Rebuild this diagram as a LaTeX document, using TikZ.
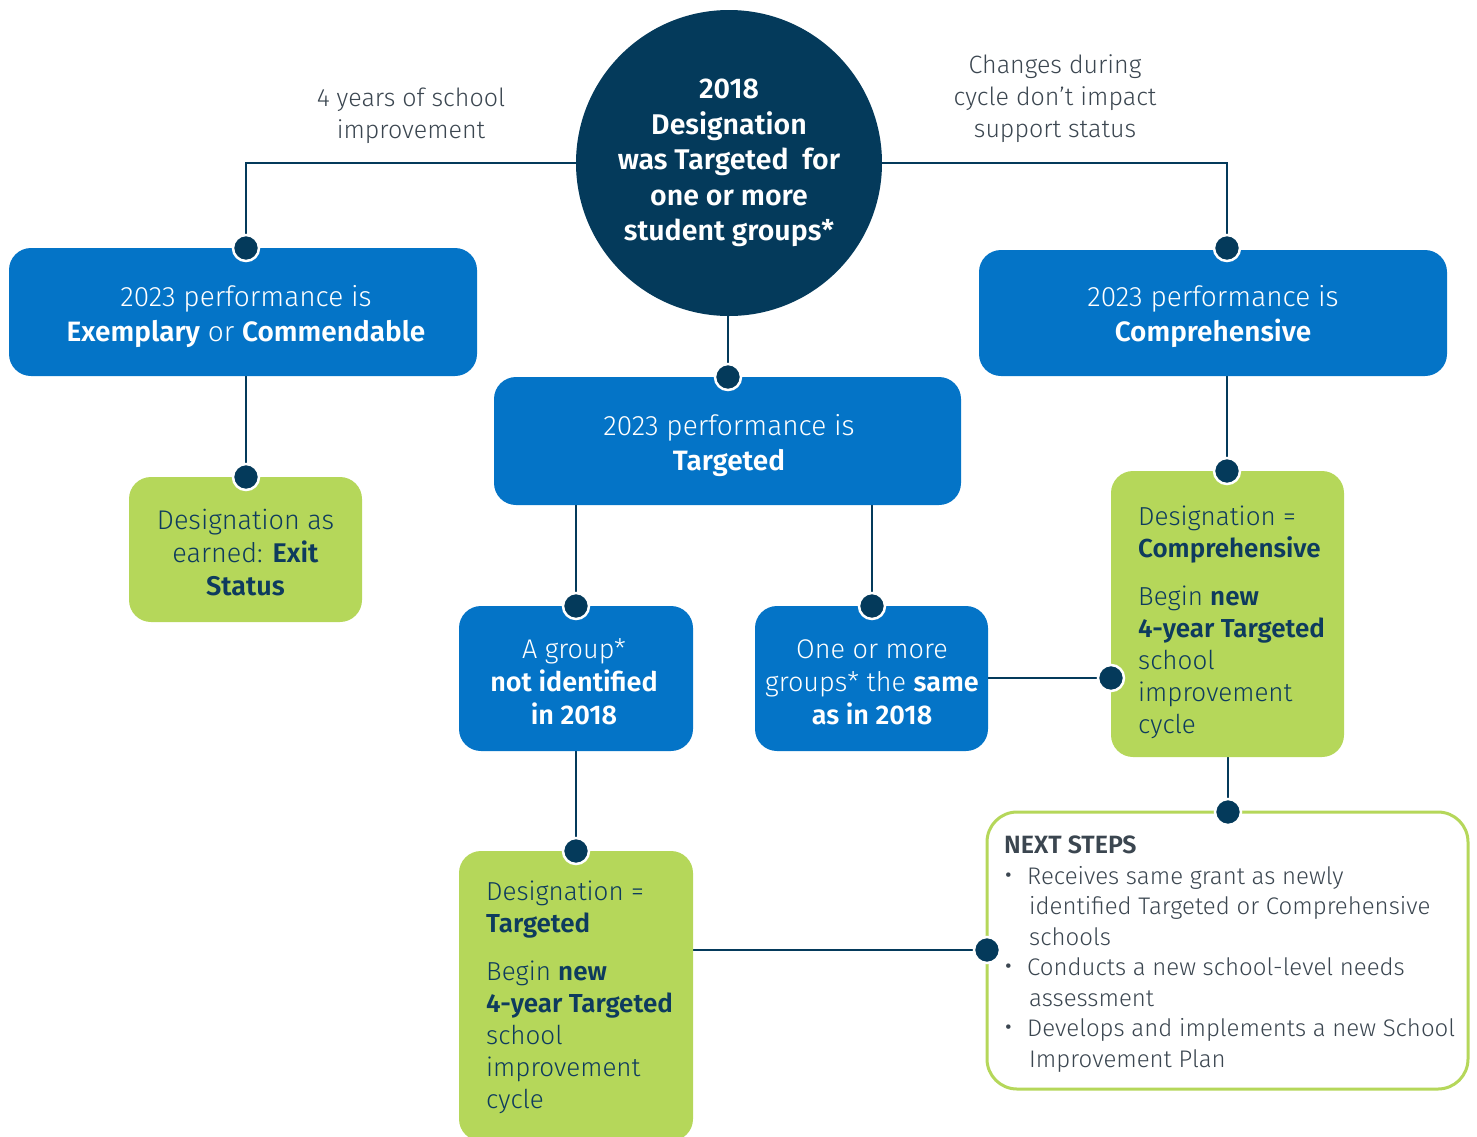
\documentclass[tikz,border=0pt]{standalone}
\usepackage{fontspec}
\setmainfont{Fira Sans Light}[BoldFont=Fira Sans SemiBold]
\usetikzlibrary{positioning}
\definecolor{cblue}{HTML}{0474C7}
\definecolor{cnavy}{HTML}{043A5B}
\definecolor{cgreen}{HTML}{B5D75A}
\definecolor{ctext}{HTML}{0E3B5E}
\definecolor{cgray}{HTML}{3B4650}
\pgfdeclarelayer{bg}
\pgfsetlayers{bg,main}
\newcommand{\bul}{\makebox[23pt][l]{\raisebox{-1pt}{\fontsize{30}{30}\selectfont\textbullet}}}
\tikzset{
  bluebox/.style={rectangle, rounded corners=22, fill=cblue, text=white, inner sep=0, align=center,
    font=\fontsize{28}{35}\selectfont},
  greenbox/.style={rectangle, rounded corners=22, fill=cgreen, text=ctext, inner sep=0, align=center,
    font=\fontsize{27}{33}\selectfont},
  greentext/.style={inner sep=0, anchor=north west, align=left, text=ctext, font=\fontsize{26}{32}\selectfont},
  dotm/.style={circle, fill=cnavy, draw=white, line width=2.5, minimum size=26, inner sep=0},
  conn/.style={draw=cnavy, line width=2.5},
  lbl/.style={align=center, text=cgray, font=\fontsize{25}{32}\selectfont},
}
\begin{document}
\begin{tikzpicture}[x=1pt,y=-1pt]
\useasboundingbox (0,0) rectangle (1477,1136);
% central circle
\node[circle, fill=cnavy, minimum size=306, inner sep=0, text=white, align=center,
  font=\bfseries\fontsize{28.5}{35.5}\selectfont] (circ) at (729,163)
  {2018\\Designation\\was Targeted\ \ for\\one or more\\student groups*};
% labels
\node[lbl] (l1) at (411,116) {4 years of school\\improvement};
\node[lbl] (l2) at (1055,99) {Changes during\\cycle don’t impact\\support status};
% blue boxes
\node[bluebox, minimum width=468, minimum height=128] (A) at (243,312) {};
\node[bluebox, fill=none] (At) at (246,317) {2023 performance is\\\textbf{Exemplary} or \textbf{Commendable}};
\node[bluebox, minimum width=468, minimum height=126] (C) at (1213,313) {};
\node[bluebox, fill=none] (Ct) at (1213,317) {2023 performance is\\\textbf{Comprehensive}};
\node[bluebox, minimum width=467, minimum height=128] (T) at (727.5,441) {};
\node[bluebox, fill=none] (Tt) at (729,446) {2023 performance is\\\textbf{Targeted}};
\node[bluebox, minimum width=234, minimum height=145] (G) at (576,678.5) {};
\node[bluebox, fill=none, font=\fontsize{27}{33}\selectfont] (Gt) at (574,682)
  {A group*\\\textbf{not identified}\\\textbf{in 2018}};
\node[bluebox, minimum width=233, minimum height=145] (S) at (871.5,678.5) {};
\node[bluebox, fill=none, font=\fontsize{27}{33}\selectfont] (St) at (872,682)
  {One or more\\groups* the \textbf{same}\\\textbf{as in 2018}};
% green boxes
\node[greenbox, minimum width=233, minimum height=145] (E) at (245.5,549.5) {};
\node[greenbox, fill=none] (Et) at (245.5,553)
  {Designation as\\earned: \textbf{Exit}\\\textbf{Status}};
\node[greenbox, minimum width=233, minimum height=286] (GC) at (1227.5,614) {};
\node[greentext] (GCt) at (1138,506)
  {Designation =\\\textbf{Comprehensive}\\[16pt]Begin \textbf{new}\\\textbf{4-year Targeted}\\school\\improvement\\cycle};
\node[greenbox, minimum width=234, minimum height=290] (GT) at (576,996) {};
\node[greentext] (GTt) at (486,881)
  {Designation =\\\textbf{Targeted}\\[16pt]Begin \textbf{new}\\\textbf{4-year Targeted}\\school\\improvement\\cycle};
% next steps
\node[rectangle, rounded corners=30, draw=cgreen, line width=3, fill=white, minimum width=481, minimum height=277, inner sep=0] (N) at (1227.5,950.5) {};
\node[inner sep=0, anchor=north west, align=left, text=cgray, font=\fontsize{24}{30.5}\selectfont] (Nt) at (1004,836)
  {{\fontsize{25}{30.5}\selectfont\textbf{NEXT STEPS}}\\
   \bul Receives same grant as newly\\
   \hspace*{25pt}identified Targeted or Comprehensive\\
   \hspace*{25pt}schools\\
   \bul Conducts a new school-level needs\\
   \hspace*{25pt}assessment\\
   \bul Develops and implements a new School\\
   \hspace*{25pt}Improvement Plan};
% dots
\node[dotm] (dA) at (246,248) {};
\node[dotm] (dC) at (1227,248) {};
\node[dotm] (dT) at (728,377) {};
\node[dotm] (dE) at (246,477) {};
\node[dotm] (dGC) at (1227,471) {};
\node[dotm] (dG) at (576,606) {};
\node[dotm] (dS) at (872,606) {};
\node[dotm] (dGCl) at (1111,678) {};
\node[dotm] (dGT) at (576,851) {};
\node[dotm] (dN) at (1228,812) {};
\node[dotm] (dNl) at (987,950) {};
% connectors
\begin{pgfonlayer}{bg}
\draw[conn] (circ.west) -| (dA);
\draw[conn] (circ.east) -| (dC);
\draw[conn] (dT |- circ.south) -- (dT);
\draw[conn] (dE |- A.south) -- (dE);
\draw[conn] (dGC |- C.south) -- (dGC);
\draw[conn] (dG |- T.south) -- (dG);
\draw[conn] (dS |- T.south) -- (dS);
\draw[conn] (G.south) -- (dGT);
\draw[conn] (S.east |- dGCl) -- (dGCl);
\draw[conn] (dN |- GC.south) -- (dN);
\draw[conn] (GT.east |- dNl) -- (dNl);
\end{pgfonlayer}
\end{tikzpicture}
\end{document}
